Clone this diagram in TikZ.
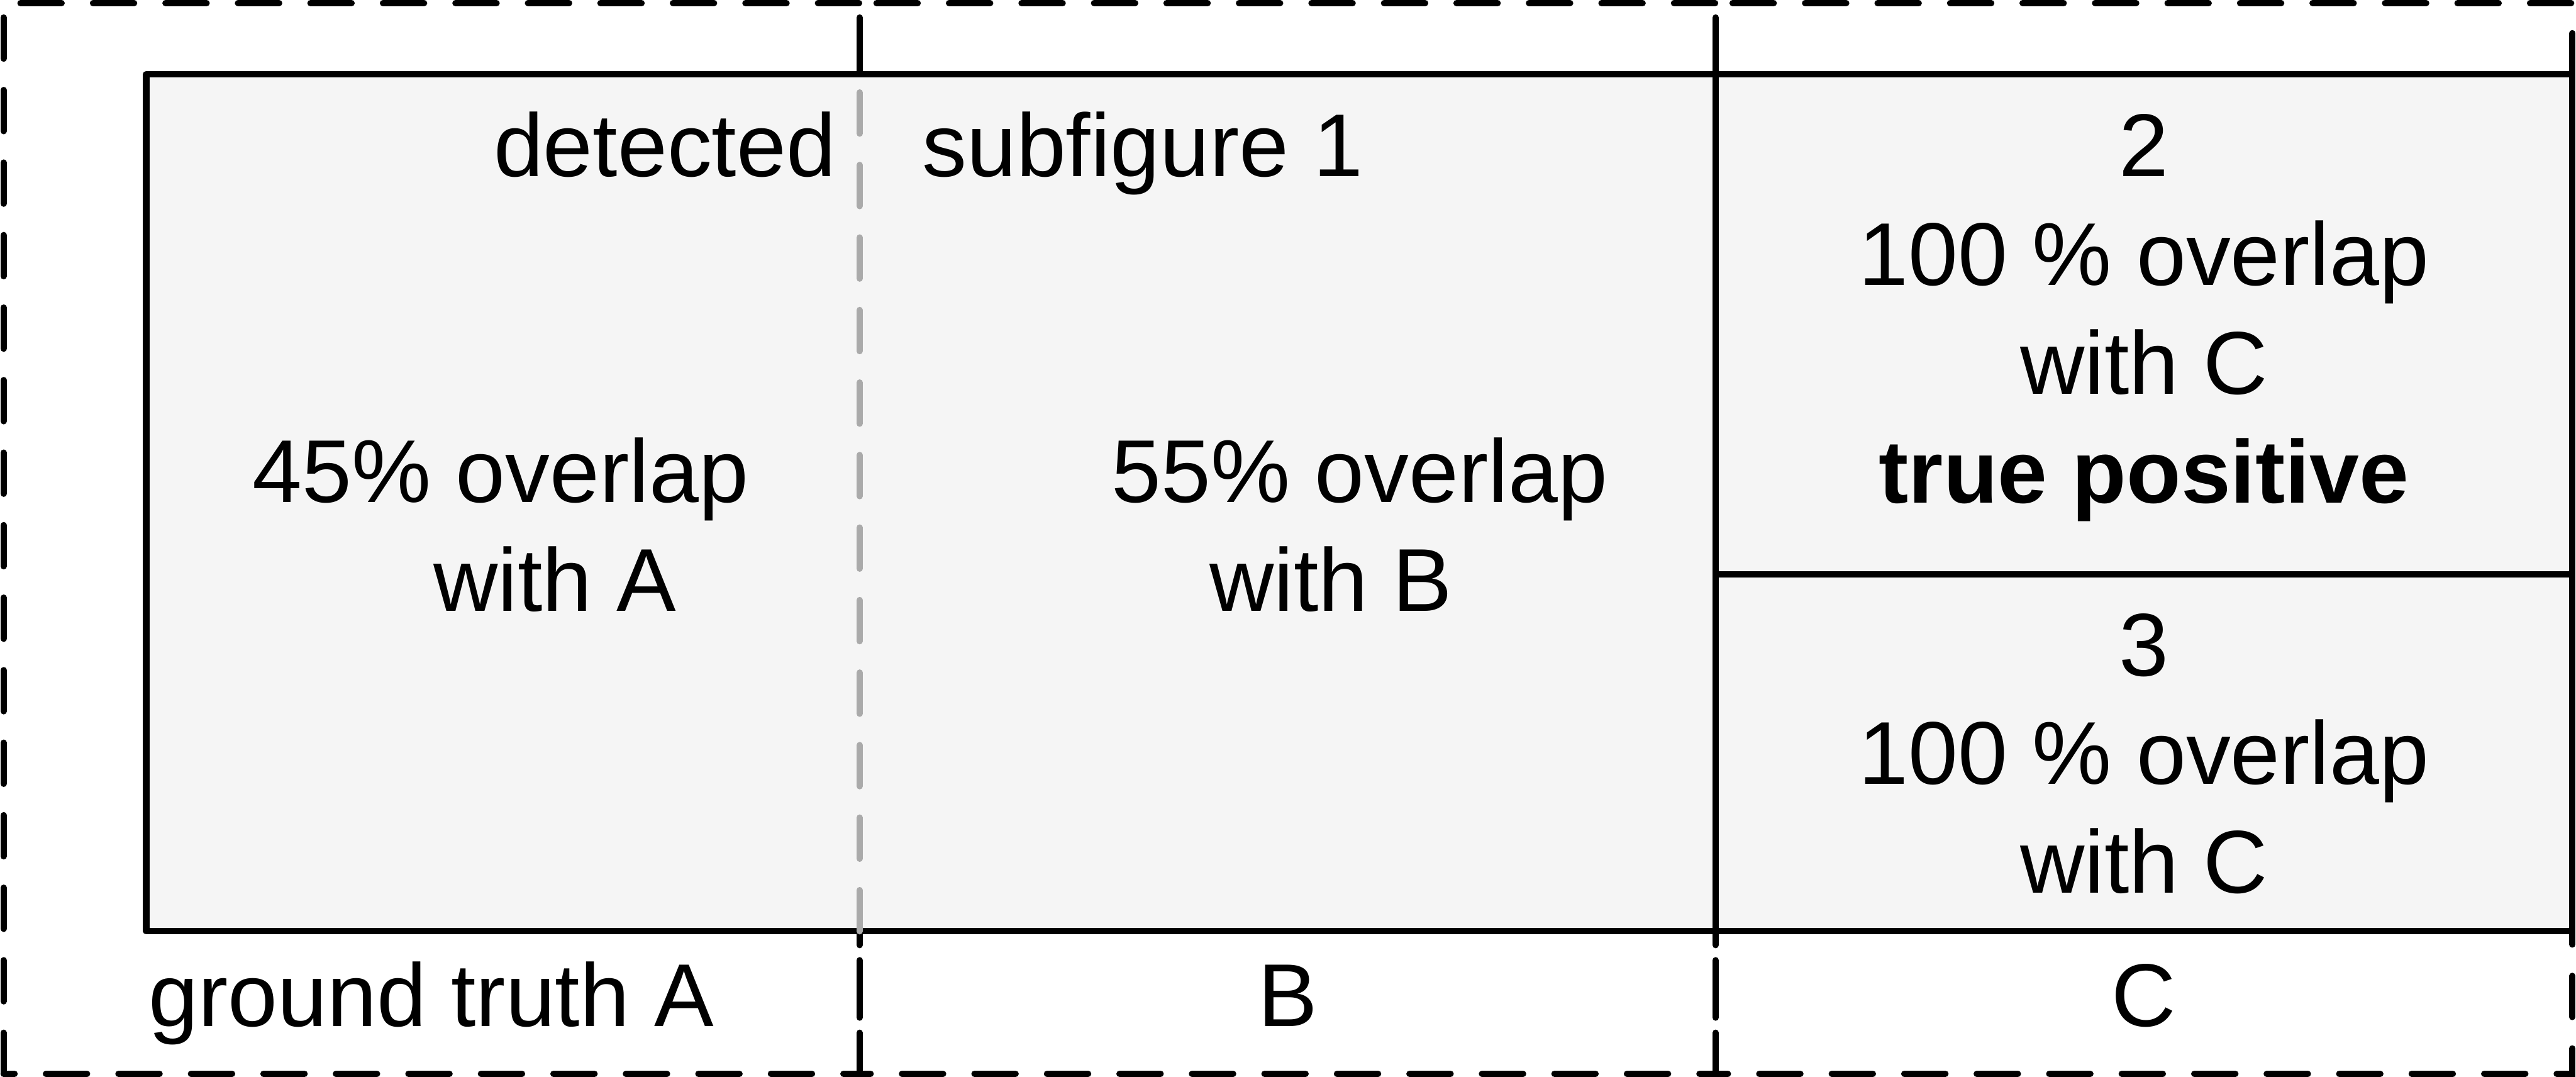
\documentclass[tikz,border=0pt]{standalone}
\usepackage{fontspec}
\setmainfont{Liberation Sans}
\definecolor{panel}{HTML}{F5F5F5}
\definecolor{seam}{HTML}{AAAAAA}

\begin{document}
\begin{tikzpicture}[x=1cm,y=1cm,
  gtbox/.style={draw=black,line width=1.5pt,dash pattern=on 0.34cm off 0.26cm,line cap=round},
  detbox/.style={draw=black,fill=panel,line width=1.5pt,line join=round},
  lbl/.style={font=\fontsize{21}{25.6}\selectfont,inner sep=0pt}]
\useasboundingbox (0,0) rectangle (21.32,8.91);
% ground truth A, B, C
\foreach \l/\r in {0.03/7.115,7.115/14.2,14.2/21.29} {
\draw[gtbox] (\l,0.025) rectangle (\r,8.885);}
% detected subfigures
\draw[detbox] (1.21,1.205) rectangle (14.2,8.295);
\draw[detbox] (14.2,4.16) rectangle (21.29,8.295);
\draw[detbox] (14.2,1.205) rectangle (21.29,4.16);
\draw[gtbox,draw=seam] (7.115,1.205) -- (7.115,8.295);
% labels (base = last line)
\node[lbl,anchor=base east] (det) at (6.925,7.45) {detected};
\node[lbl,anchor=base west] (sub1) at (7.625,7.45) {subfigure 1};
\node[lbl,anchor=base west,align=left] (ovA) at (2.085,3.855) {45\% overlap\\\hspace*{1.495cm}with A};
\node[lbl,anchor=base west,align=left] (ovB) at (9.195,3.855) {55\% overlap\\\hspace*{0.81cm}with B};
\node[lbl,anchor=base,align=center] (sub2) at (17.745,4.75) {2\\100 \% overlap\\with C\\\textbf{true positive}};
\node[lbl,anchor=base,align=center] (sub3) at (17.745,1.52) {3\\100 \% overlap\\with C};
\node[lbl,anchor=base west] (gtA) at (1.225,0.42) {ground truth A};
\node[lbl,anchor=base] (gtB) at (10.66,0.42) {B};
\node[lbl,anchor=base] (gtC) at (17.745,0.42) {C};
\end{tikzpicture}
\end{document}
